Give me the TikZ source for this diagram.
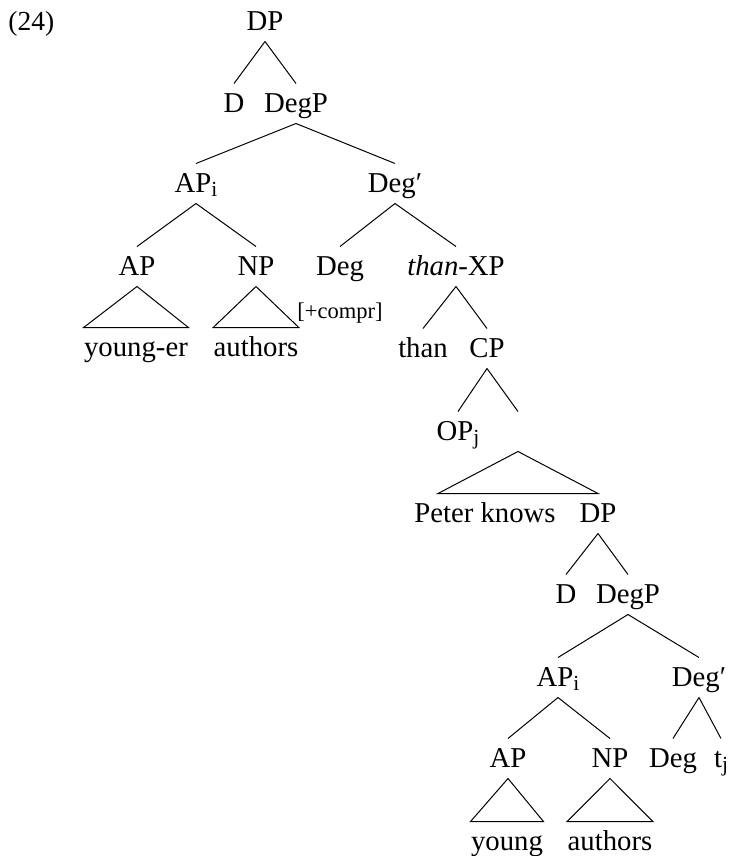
\documentclass[tikz,border=0pt]{standalone}
\usepackage{fontspec}
\setmainfont{Liberation Serif}
\usetikzlibrary{calc}
\newcommand\lowsub[1]{\raisebox{-0.32ex}{\fontsize{8.6}{10}\selectfont #1}}
\begin{document}
\begin{tikzpicture}[x=0.4pt,y=-0.4pt,
  lab/.style={anchor=base,inner sep=0pt,text height=11.2pt,text depth=4.4pt,font=\fontsize{11.5}{13}\selectfont},
  note/.style={anchor=base west,inner sep=0pt,font=\fontsize{9}{11}\selectfont},
  branch/.style={line width=0.4pt},
  roof/.style={line width=0.4pt,line join=miter}]
\useasboundingbox (0,0) rectangle (731,856);
% example number
\node[note,font=\fontsize{11}{13}\selectfont] (ex) at (8,30) {(24)};
% upper tree
\node[lab] (DPa) at (265,30) {DP};
\node[lab] (Da) at (234,112) {D};
\node[lab] (DegPa) at (296,112) {DegP};
\node[lab] (APia) at (196,192) {AP\lowsub{i}};
\node[lab] (Degpa) at (395,192) {Deg\char"2032};
\node[lab] (APa) at (137,275) {AP};
\node[lab] (NPa) at (256,275) {NP};
\node[lab] (Dega) at (340,275) {Deg};
\node[lab] (thanXP) at (456,275) {\textit{than}-XP};
\node[lab] (youngER) at (136,356) {young-er};
\node[lab] (authorsa) at (256,356) {authors};
\node[note] (compr) at (297,318) {[+compr]};
\node[lab] (than) at (423,357) {than};
\node[lab] (CP) at (487,357) {CP};
\node[lab] (OPj) at (458,440) {OP\lowsub{j}};
\node[lab] (Cbar) at (518,440) {};
\node[lab] (peter) at (485,522) {Peter knows};
% lower tree
\node[lab] (DPb) at (598,522) {DP};
\node[lab] (Db) at (566,603) {D};
\node[lab] (DegPb) at (628,603) {DegP};
\node[lab] (APib) at (558,686) {AP\lowsub{i}};
\node[lab] (Degpb) at (699,686) {Deg\char"2032};
\node[lab] (APb) at (508,767) {AP};
\node[lab] (NPb) at (610,767) {NP};
\node[lab] (Degb) at (673,767) {Deg};
\node[lab] (tj) at (721,767) {t\lowsub{j}};
\node[lab] (youngb) at (507,850) {young};
\node[lab] (authorsb) at (610,850) {authors};
% branches
\draw[branch] (DPa.south) -- (Da.north);
\draw[branch] (DPa.south) -- (DegPa.north);
\draw[branch] (DegPa.south) -- (APia.north);
\draw[branch] (DegPa.south) -- (Degpa.north);
\draw[branch] (APia.south) -- (APa.north);
\draw[branch] (APia.south) -- (NPa.north);
\draw[branch] (Degpa.south) -- (Dega.north);
\draw[branch] (Degpa.south) -- (thanXP.north);
\draw[branch] (thanXP.south) -- (than.north);
\draw[branch] (thanXP.south) -- (CP.north);
\draw[branch] (CP.south) -- (OPj.north);
\draw[branch] (CP.south) -- (Cbar.north);
\draw[branch] (DPb.south) -- (Db.north);
\draw[branch] (DPb.south) -- (DegPb.north);
\draw[branch] (DegPb.south) -- (APib.north);
\draw[branch] (DegPb.south) -- (Degpb.north);
\draw[branch] (APib.south) -- (APb.north);
\draw[branch] (APib.south) -- (NPb.north);
\draw[branch] (Degpb.south) -- (Degb.north);
\draw[branch] (Degpb.south) -- (tj.north);
% roofs
\draw[roof] (APa.south) -- (youngER.north west) -- (youngER.north east) -- cycle;
\draw[roof] (NPa.south) -- (authorsa.north west) -- (authorsa.north east) -- cycle;
\coordinate (pkL) at ($(DPb.north)!2!(Cbar.south |- DPb.north)$);
\draw[roof] (Cbar.south) -- (pkL) -- (DPb.north) -- cycle;
\draw[roof] (APb.south) -- (youngb.north west) -- (youngb.north east) -- cycle;
\draw[roof] (NPb.south) -- (authorsb.north west) -- (authorsb.north east) -- cycle;
\end{tikzpicture}
\end{document}
